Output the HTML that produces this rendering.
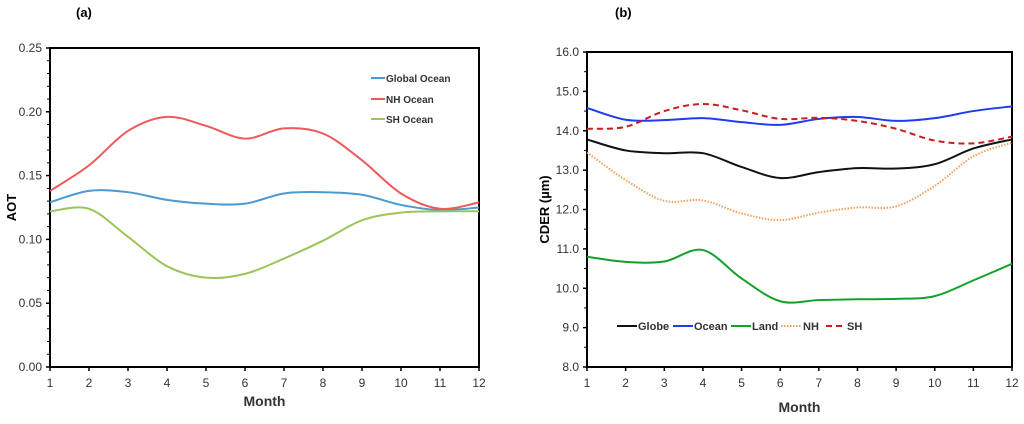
<!DOCTYPE html>
<html><head><meta charset="utf-8"><style>
body{margin:0;background:#fff;}
svg{font-family:"Liberation Sans",sans-serif;}
</style></head><body>
<svg id="s" width="1024" height="419"></svg>
<script>
const months=[1,2,3,4,5,6,7,8,9,10,11,12];
const aTicks=[0,0.05,0.10,0.15,0.20,0.25];
const aGlobal=[0.129,0.138,0.137,0.131,0.128,0.128,0.136,0.137,0.135,0.127,0.123,0.125];
const aNH=[0.138,0.158,0.185,0.196,0.189,0.179,0.187,0.183,0.162,0.136,0.124,0.129];
const aSH=[0.122,0.124,0.102,0.079,0.070,0.073,0.085,0.099,0.115,0.121,0.122,0.122];
const bTicks=[8,9,10,11,12,13,14,15,16];
const bGlobe=[13.78,13.5,13.43,13.43,13.08,12.8,12.95,13.05,13.04,13.15,13.55,13.78];
const bOcean=[14.58,14.28,14.27,14.32,14.22,14.15,14.3,14.35,14.25,14.32,14.5,14.62];
const bLand=[10.8,10.67,10.68,10.97,10.25,9.67,9.7,9.72,9.73,9.8,10.2,10.62];
const bNH=[13.45,12.75,12.22,12.23,11.9,11.73,11.92,12.05,12.08,12.6,13.35,13.7];
const bSH=[14.05,14.1,14.5,14.68,14.52,14.3,14.33,14.25,14.05,13.75,13.68,13.85];

const svg=document.getElementById('s');
const NS='http://www.w3.org/2000/svg';
function mk(tag,attrs,text){const e=document.createElementNS(NS,tag);for(const k in attrs)e.setAttribute(k,attrs[k]);if(text!==undefined)e.textContent=text;svg.appendChild(e);return e;}
function smooth(pts){let d='M'+pts[0][0]+','+pts[0][1];for(let i=0;i<pts.length-1;i++){const p0=pts[i-1]||pts[i],p1=pts[i],p2=pts[i+1],p3=pts[i+2]||p2;const t=6;d+=' C'+(p1[0]+(p2[0]-p0[0])/t)+','+(p1[1]+(p2[1]-p0[1])/t)+' '+(p2[0]-(p3[0]-p1[0])/t)+','+(p2[1]-(p3[1]-p1[1])/t)+' '+p2[0]+','+p2[1];}return d;}

function panel(o){
  const X=m=>o.x0+(m-1)*(o.x1-o.x0)/11;
  const Y=v=>o.y1-(v-o.vmin)*(o.y1-o.y0)/(o.vmax-o.vmin);
  let e=mk('rect',{x:o.x0,y:o.y0,width:o.x1-o.x0,height:o.y1-o.y0,fill:'none',stroke:'#000','stroke-width':2});
  
  o.ticks.forEach((t,i)=>{
    e=mk('text',{x:o.x0-8,y:Y(t)+4,'text-anchor':'end','font-size':12,fill:'#333'},t.toFixed(o.dec));
    
    mk('line',{x1:o.x0-4,x2:o.x0,y1:Y(t),y2:Y(t),stroke:'#000','stroke-width':1.5});
    if(i<o.ticks.length-1){const st=(o.ticks[i+1]-t)/o.minor;for(let k=1;k<o.minor;k++)mk('line',{x1:o.x0-3,x2:o.x0,y1:Y(t+k*st),y2:Y(t+k*st),stroke:'#000','stroke-width':1});}
  });
  months.forEach(m=>{
    mk('line',{x1:X(m),x2:X(m),y1:o.y1,y2:o.y1+4,stroke:'#000','stroke-width':1.5});
    e=mk('text',{x:X(m),y:o.y1+20,'text-anchor':'middle','font-size':12,fill:'#333'},m);
    
  });
  e=mk('text',{x:(o.x0+o.x1)/2,y:o.y1+o.mty,'text-anchor':'middle','font-size':14,'font-weight':'bold',fill:'#333'},'Month');
  
  e=mk('text',{x:o.ylx,y:(o.y0+o.y1)/2,'text-anchor':'middle','font-size':13,'font-weight':'bold',fill:'#000',transform:'rotate(-90 '+o.ylx+' '+(o.y0+o.y1)/2+')'},o.ylabel);
  
  e=mk('text',{x:o.tx,y:17,'font-size':13,'font-weight':'bold',fill:'#000'},o.title);
  
  o.series.forEach(s=>{
    e=mk('path',{d:smooth(s.v.map((v,i)=>[X(months[i]),Y(v)])),fill:'none',stroke:s.c,'stroke-width':s.w||2,'stroke-dasharray':s.dash||'none'});
    
    e=mk('line',{x1:s.lx,x2:s.lx+s.ll,y1:s.ly,y2:s.ly,stroke:s.c,'stroke-width':s.w||2,'stroke-dasharray':s.dash||'none'});
    
    e=mk('text',{x:s.lx+s.ll+1,y:s.ly+4,'font-size':s.fs||11,'font-weight':'bold',fill:'#333'},s.label);
    
  });
}
panel({id:'a',x0:50,x1:479,y0:48,y1:367,vmin:0,vmax:0.25,ticks:aTicks,dec:2,minor:5,ylx:16,ylabel:'AOT',title:'(a)',tx:76,mty:39,
  series:[{n:'global-ocean',v:aGlobal,c:'#4a9ad4',label:'Global Ocean',lx:371,ll:14,ly:78,fs:10},
          {n:'nh-ocean',v:aNH,c:'#ec5a5a',label:'NH Ocean',lx:371,ll:14,ly:99,fs:10},
          {n:'sh-ocean',v:aSH,c:'#9cc45a',label:'SH Ocean',lx:371,ll:14,ly:119,fs:10}]});
panel({id:'b',x0:587,x1:1012,y0:52,y1:367,vmin:8,vmax:16,ticks:bTicks,dec:1,minor:2,ylx:549,ylabel:'CDER (µm)',title:'(b)',tx:615,mty:45,
  series:[{n:'globe',v:bGlobe,c:'#111',label:'Globe',lx:617,ll:20,ly:326},
          {n:'ocean',v:bOcean,c:'#1f3cf0',label:'Ocean',lx:673,ll:20,ly:326},
          {n:'land',v:bLand,c:'#12a12a',label:'Land',lx:731,ll:20,ly:326},
          {n:'nh',v:bNH,c:'#f5a05a',dash:'1.5,1.5',label:'NH',lx:781,ll:21,ly:326},
          {n:'sh',v:bSH,c:'#c81e1e',dash:'6,4',label:'SH',lx:826,ll:20,ly:326}]});
</script>
</body></html>
